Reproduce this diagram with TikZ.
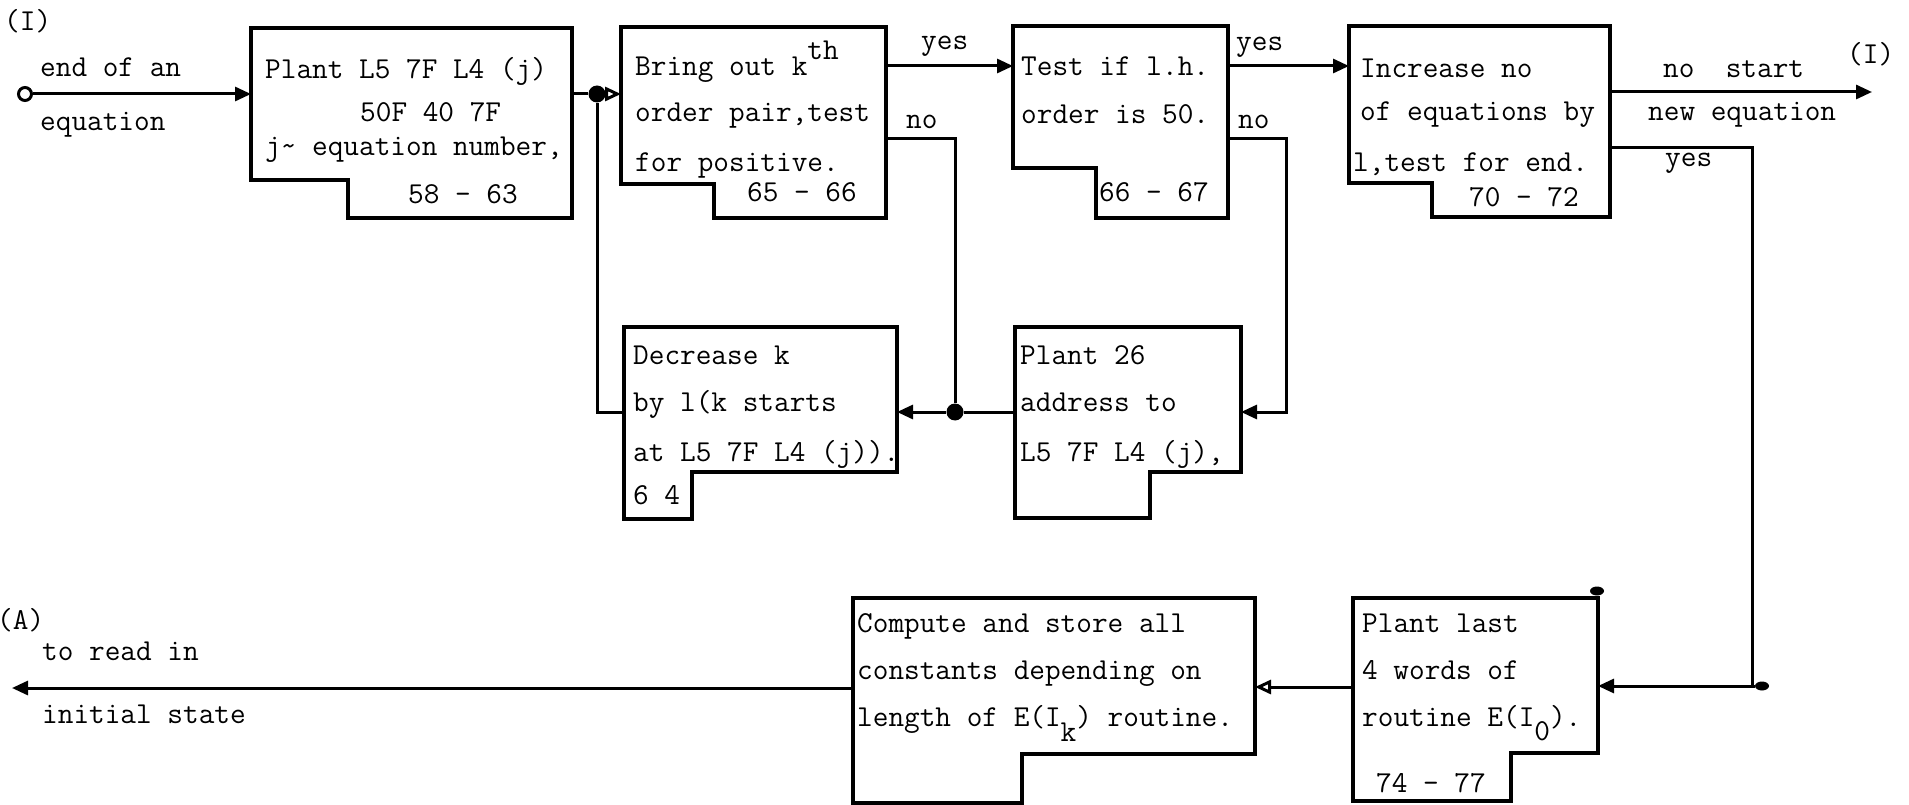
\documentclass[tikz,border=0pt]{standalone}
\usetikzlibrary{arrows.meta,calc,shapes.geometric}

\tikzset{
  blk/.style={rectangle, inner sep=0pt, outer sep=0pt},
  boxln/.style={line width=3.2pt},
  con/.style={line width=3pt},
  arr/.style={con, -{Triangle[length=16pt,width=14pt]}},
  oarr/.style={con, -{Triangle[open,length=16pt,width=14pt]}},
  txt/.style={anchor=base west, inner sep=0pt, font=\ttfamily\fontsize{30.4}{36}\selectfont},
  jdot/.style={circle, fill, inner sep=0pt, minimum size=17pt},
  blob/.style={ellipse, fill, inner sep=0pt, minimum width=14pt, minimum height=9pt}
}

% box with the corner cut out at the lower left / lower right
\newcommand\cutL[3]{\draw[boxln] (#1.north west) -- (#1.north east) -- (#1.south east)
  -- ($(#1.south west)+(#2,0)$) -- ($(#1.south west)+(#2,#3)$) -- ($(#1.south west)+(0,#3)$) -- cycle;}
\newcommand\cutR[3]{\draw[boxln] (#1.north west) -- (#1.north east) -- ($(#1.south east)+(0,#3)$)
  -- ($(#1.south east)+(-#2,#3)$) -- ($(#1.south east)+(-#2,0)$) -- (#1.south west) -- cycle;}

\begin{document}
\begin{tikzpicture}[x=1pt,y=1pt]
\useasboundingbox (0,-805) rectangle (1909,0);

% top row
\node[blk, minimum width=321pt, minimum height=190pt] (b1) at (411.5,-123) {};
\node[blk, minimum width=265pt, minimum height=191pt] (b2) at (753.5,-122.5) {};
\node[blk, minimum width=215pt, minimum height=192pt] (b3) at (1120.5,-122) {};
\node[blk, minimum width=261pt, minimum height=191pt] (b4) at (1479.5,-121.5) {};
% middle row
\node[blk, minimum width=273pt, minimum height=192pt] (b5) at (760.5,-423) {};
\node[blk, minimum width=226pt, minimum height=191pt] (b6) at (1128,-422.5) {};
% bottom row
\node[blk, minimum width=245pt, minimum height=203pt] (b7) at (1475.5,-699.5) {};
\node[blk, minimum width=402pt, minimum height=205pt] (b8) at (1054,-700.5) {};

\cutL{b1}{97}{38}
\cutL{b2}{93}{34}
\cutL{b3}{83}{50}
\cutL{b4}{83}{34}
\cutR{b5}{205}{47}
\cutR{b6}{91}{46}
\cutR{b7}{87}{48}
\cutR{b8}{233}{49}

% junctions and ends
\node[draw, circle, line width=3pt, fill=white, inner sep=0pt, minimum size=13pt] (st) at (25,-94) {};
\node[jdot] (j1) at (597,-94) {};
\node[jdot] (j2) at (955,-412) {};
\node[blob] (d1) at (1597,-591) {};
\node[blob] (d2) at (1762,-686) {};
\coordinate (out) at (1872,-92);
\coordinate (ea) at (12,-688);

% connectors
\draw[arr] (st) -- (st -| b1.west);
\draw[con] (j1 -| b1.east) -- (j1);
\draw[oarr] (j1) -- (j1 -| b2.west);
\draw[arr] (b2.east |- 0,-66) -- (b3.west |- 0,-66);
\draw[arr] (b3.east |- 0,-66) -- (b4.west |- 0,-66);
\draw[con] (b2.east |- 0,-139) -- (j2 |- 0,-139) -- (j2);
\draw[arr] (j2) -- (j2 -| b5.east);
\draw[con] (b6.west |- j2) -- (j2);
\draw[con] (b5.west |- j2) -- (j1 |- j2) -- (j1);
\draw[arr] (b3.east |- 0,-139) -- (1286,-139) -- (1286,-412) -- (b6.east |- j2);
\draw[arr] (b4.east |- out) -- (out);
\draw[con] (b4.east |- 0,-148) -- (1752,-148) -- (1752,-686);
\draw[arr] (d2) -- (b7.east |- d2);
\draw[oarr] (b7.west |- 0,-687) -- (b8.east |- 0,-687);
\draw[arr] (b8.west |- ea) -- (ea);

% box texts
\node[txt] (t1a) at (265,-79) {Plant L5 7F L4 (j)};
\node[txt] (t1b) at (360,-122) {50F 40 7F};
\node[txt] (t1c) at (265,-156) {j\textasciitilde{} equation number,};
\node[txt] (t1d) at (408,-204) {58 - 63};

\node[txt] (t2a) at (635,-76) {Bring out k\raisebox{16pt}{th}};
\node[txt] (t2b) at (635,-122) {order pair,test};
\node[txt] (t2c) at (635,-172) {for positive.};
\node[txt] (t2d) at (747,-202) {65 - 66};

\node[txt] (t3a) at (1021,-76) {Test if l.h.};
\node[txt] (t3b) at (1021,-124) {order is 50.};
\node[txt] (t3c) at (1099,-202) {66 - 67};

\node[txt] (t4a) at (1360,-78) {Increase no};
\node[txt] (t4b) at (1360,-121) {of equations by};
\node[txt] (t4c) at (1353,-172) {l,test for end.};
\node[txt] (t4d) at (1469,-207) {70 - 72};

\node[txt] (t5a) at (633,-364) {Decrease k};
\node[txt] (t5b) at (633,-411) {by l(k starts};
\node[txt] (t5c) at (633,-461) {at L5 7F L4 (j)).};
\node[txt] (t5d) at (633,-504) {6 4};

\node[txt] (t6a) at (1020,-364) {Plant 26};
\node[txt] (t6b) at (1020,-411) {address to};
\node[txt] (t6c) at (1020,-461) {L5 7F L4 (j),};

\node[txt] (t7a) at (1362,-632) {Plant last};
\node[txt] (t7b) at (1362,-679) {4 words of};
\node[txt] (t7c) at (1362,-726) {routine E(I\raisebox{-14pt}{0}).};
\node[txt] (t7d) at (1376,-792) {74 - 77};

\node[txt] (t8a) at (857,-632) {Compute and store all};
\node[txt] (t8b) at (857,-679) {constants depending on};
\node[txt] (t8c) at (857,-726) {length of E(I\raisebox{-15pt}{k}) routine.};

% free labels
\node[txt] (inI) at (4,-31) {(I)};
\node[txt] (in1) at (40,-77) {end of an};
\node[txt] (in2) at (40,-131) {equation};
\node[txt] (y1) at (921,-50) {yes};
\node[txt] (n1) at (906,-129) {no};
\node[txt] (y2) at (1236,-51) {yes};
\node[txt] (n2) at (1238,-129) {no};
\node[txt] (ns1) at (1663,-78) {no\ \ start};
\node[txt] (ns2) at (1648,-121) {new equation};
\node[txt] (outI) at (1847,-64) {(I)};
\node[txt] (y3) at (1665,-167) {yes};
\node[txt] (outA) at (-3,-629) {(A)};
\node[txt] (ra1) at (42,-660) {to read in};
\node[txt] (ra2) at (42,-723) {initial state};
\end{tikzpicture}
\end{document}
